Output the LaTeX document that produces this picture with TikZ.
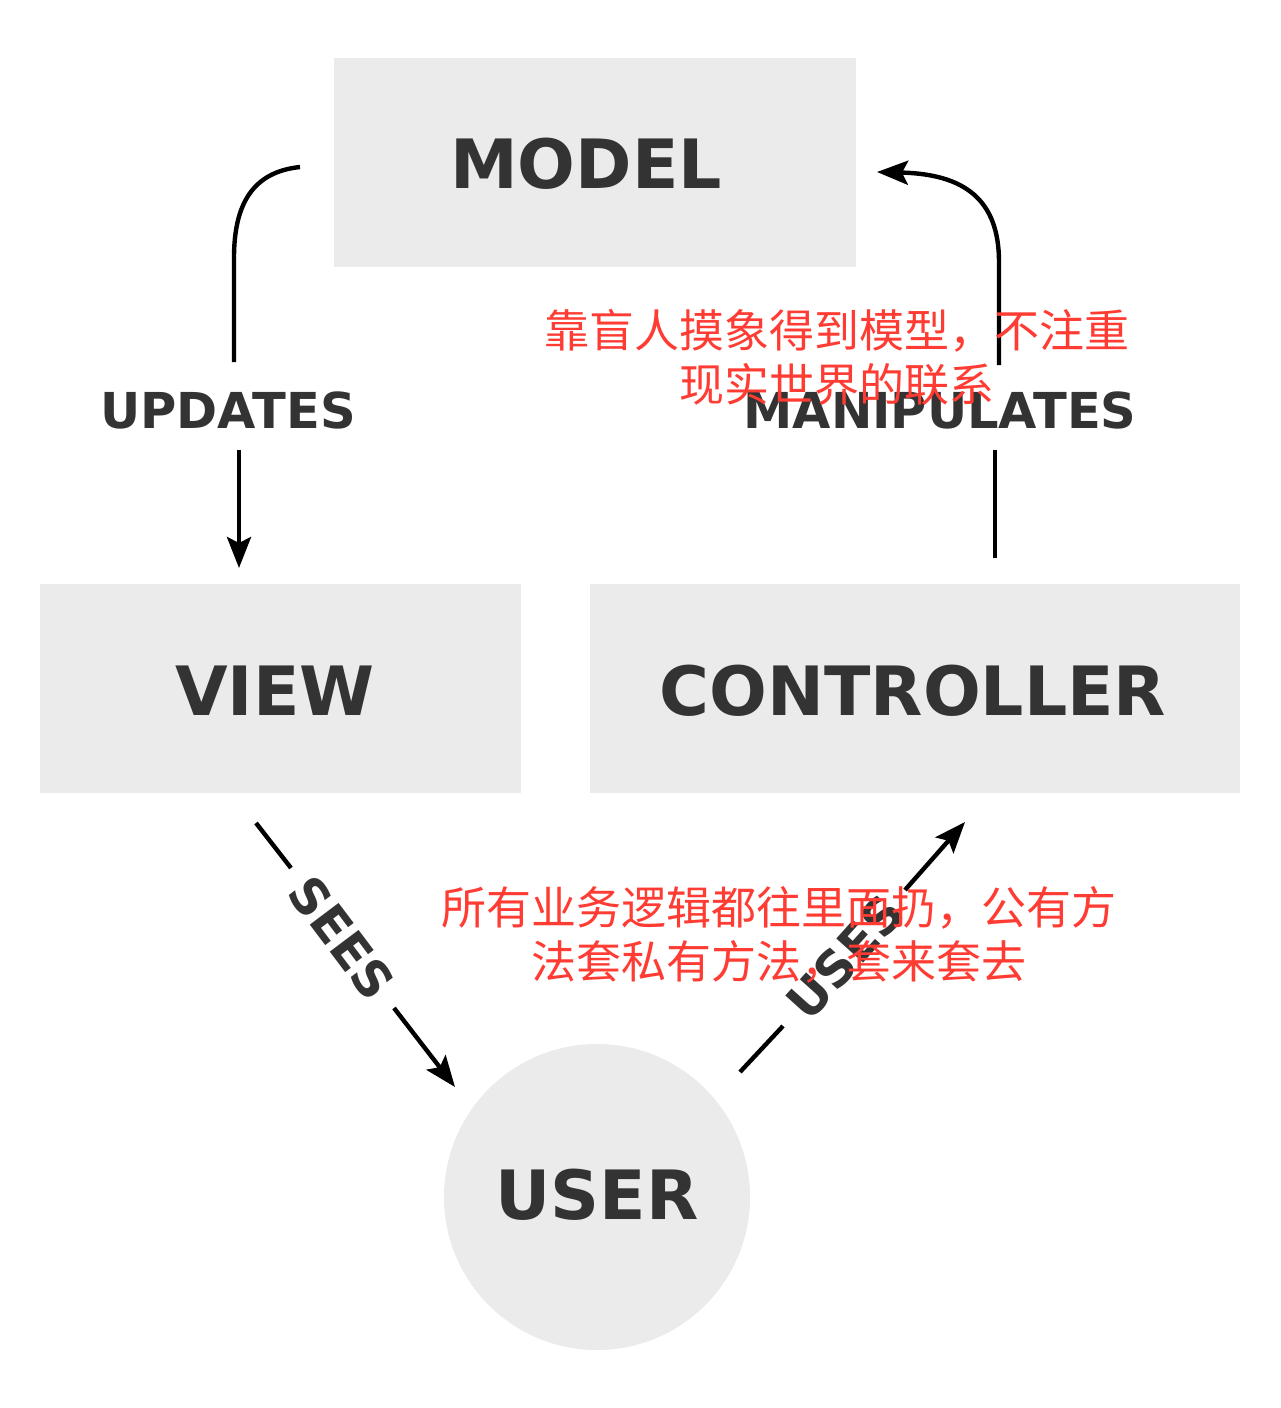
\documentclass[tikz,border=0pt]{standalone}
\usepackage{fontspec}
\setmainfont{DejaVu Sans}
\newfontfamily\cjk{Noto Sans CJK SC}
\usetikzlibrary{arrows.meta}
\definecolor{boxgray}{HTML}{EBEBEB}
\definecolor{txtgray}{HTML}{333333}
\definecolor{notered}{HTML}{FF3C33}
\begin{document}
\begin{tikzpicture}[x=1pt,y=-1pt,
  box/.style={fill=boxgray, draw=none, inner sep=0pt},
  boxtxt/.style={text=txtgray, inner sep=0pt, font=\bfseries\fontsize{68}{80}\selectfont},
  lbl/.style={text=txtgray, font=\bfseries\fontsize{49.5}{58}\selectfont, inner sep=0pt},
  conn/.style={line width=4.4pt, draw=black},
  tipped/.style={-{Stealth[length=31pt,width=24pt,inset=6pt]}},
  note/.style={text=notered, font=\cjk\fontsize{45}{54}\selectfont, align=center, inner sep=0pt}]
\useasboundingbox[fill=white] (0,0) rectangle (1280,1408);
% boxes
\node[box, minimum width=522pt, minimum height=209pt] (model) at (595,162.5) {};
\node[box, minimum width=481pt, minimum height=209pt] (view) at (280.5,688.5) {};
\node[box, minimum width=650pt, minimum height=209pt] (ctrl) at (915,688.5) {};
\node[box, circle, minimum size=306pt] (user) at (597,1197) {};
\node[boxtxt] (modeltxt) at (586,164) {MODEL};
\node[boxtxt] (viewtxt) at (275,691) {VIEW};
\node[boxtxt] (ctrltxt) at (913,691) {CONTROLLER};
\node[boxtxt] (usertxt) at (597,1195) {USER};
% labels
\node[lbl] (upd) at (228,410) {UPDATES};
\node[lbl] (man) at (940,410) {MANIPULATES};
\node[lbl, rotate=-53] (sees) at (342,938) {SEES};
\node[lbl, rotate=48] (uses) at (845,957) {USES};
% connector end points
\coordinate (updA) at (300,167);
\coordinate (updB) at (234,362);
\coordinate (updC) at (239,450);
\coordinate (updD) at (239,568);
\coordinate (manA) at (995,558);
\coordinate (manB) at (995,450);
\coordinate (manC) at (999,365);
\coordinate (manD) at (877,172);
\coordinate (seeA) at (256,823);
\coordinate (seeB) at (291,868);
\coordinate (seeC) at (394,1008);
\coordinate (seeD) at (455,1087);
\coordinate (useA) at (740,1072);
\coordinate (useB) at (783,1026);
\coordinate (useC) at (905,890);
\coordinate (useD) at (965,822);
% connectors
\draw[conn] (updA) .. controls (252,172) and (234,205) .. (234,258) -- (updB);
\draw[conn, tipped] (updC) -- (updD);
\draw[conn] (manA) -- (manB);
\draw[conn, tipped] (manC) -- (999,262) .. controls (999,200) and (965,174) .. (manD);
\draw[conn] (seeA) -- (seeB);
\draw[conn, tipped] (seeC) -- (seeD);
\draw[conn] (useA) -- (useB);
\draw[conn, tipped] (useC) -- (useD);
% notes
\node[note] (note1) at (837,357) {靠盲人摸象得到模型，不注重\\现实世界的联系};
\node[note] (note2) at (779,935) {所有业务逻辑都往里面扔，公有方\\法套私有方法，套来套去};
\end{tikzpicture}
\end{document}
